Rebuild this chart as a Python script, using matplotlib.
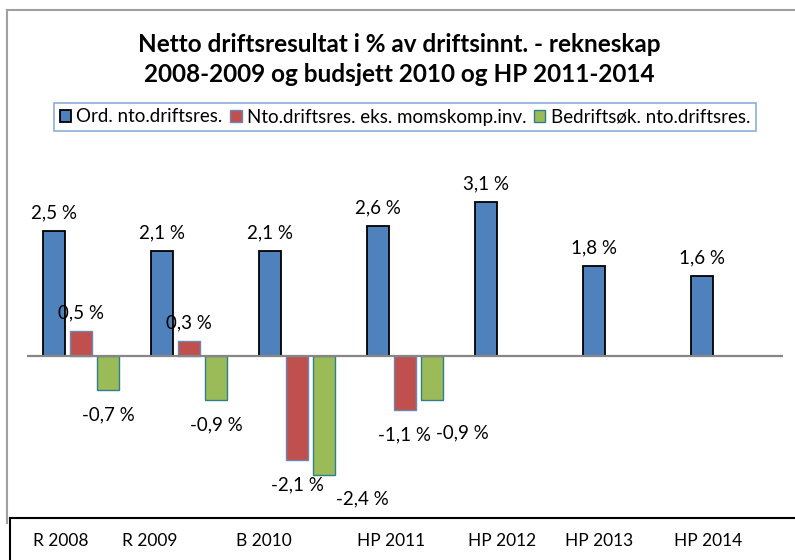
import matplotlib
matplotlib.use("Agg")
import matplotlib.pyplot as plt
from matplotlib.lines import Line2D
import numpy as np

plt.rcParams['font.family'] = ['Lato', 'DejaVu Sans']

# data
periods = ["R 2008", "R 2009", "B 2010", "HP 2011", "HP 2012", "HP 2013", "HP 2014"]
series_names = ["Ord. nto.driftsres.", "Nto.driftsres. eks. momskomp.inv.", "Bedriftsøk. nto.driftsres."]
ord_netto = [2.5, 2.1, 2.1, 2.6, 3.1, 1.8, 1.6]
eks_moms = [0.5, 0.3, -2.1, -1.1, None, None, None]
bedrift = [-0.7, -0.9, -2.4, -0.9, None, None, None]
title_lines = ["Netto driftsresultat i % av driftsinnt. - rekneskap",
               "2008-2009 og budsjett 2010 og HP 2011-2014"]

# category label x-positions (pixels) in the separate box under the chart
label_px = [61, 150, 264, 391, 502, 599, 708]
# hand-moved data labels (series index, period index) -> extra pixel shift
label_nudge = {(2, 2): (38, 1), (2, 3): (30, -8)}

W, H = 795, 560
fig = plt.figure(figsize=(W / 100, H / 100), dpi=100)

def fx(px):
    return px / W

def fy(py):
    return 1 - py / H

ax = fig.add_axes([fx(27), fy(515), fx(783) - fx(27), fy(130) - fy(515)])

styles = [
    dict(color="#4F81BD", edgecolor="black", linewidth=1.3),
    dict(color="#C0504D", edgecolor="#6E86B0", linewidth=1.0),
    dict(color="#9BBB59", edgecolor="#2F7E8C", linewidth=1.0),
]
offsets = [-0.25, 0.0, 0.25]
width = 0.204
x = np.arange(len(periods))

for si, (vals, name, st, off) in enumerate(zip([ord_netto, eks_moms, bedrift], series_names, styles, offsets)):
    idx = [i for i, v in enumerate(vals) if v is not None]
    xs = [x[i] + off for i in idx]
    ys = [vals[i] for i in idx]
    ax.bar(xs, ys, width=width, label=name, **st, zorder=2)
    for i, xi, v in zip(idx, xs, ys):
        txt = f"{v:.1f} %".replace(".", ",")
        dx, dy = label_nudge.get((si, i), (0, 0))
        dy += 18 if v >= 0 else -25
        ax.annotate(txt, (xi, v), xytext=(dx, dy), textcoords="offset pixels",
                    ha="center", va="center", fontsize=13.5, clip_on=False)

ax.axhline(0, color="#868686", linewidth=1.6, zorder=3)
ax.set_xlim(-0.5, len(periods) - 0.5)
ax.set_ylim(-3.21, 4.54)
ax.axis("off")

for line, py in zip(title_lines, [45, 75]):
    fig.text(fx(399), fy(py), line, ha="center", va="center", fontsize=17.5,
             fontweight="bold")

leg = fig.legend(loc="center", bbox_to_anchor=(fx(405), fy(117)), ncol=3,
                 frameon=True, fancybox=False, edgecolor="#6F9BD1", fontsize=13.5,
                 handlelength=0.6, handleheight=0.6, handletextpad=0.3,
                 columnspacing=0.4, borderpad=0.3, borderaxespad=0)
leg.get_frame().set_linewidth(1.2)

# outer chart border (grey) and the box below it (black)
fig.add_artist(Line2D([fx(7), 1], [fy(10), fy(10)], color="#a0a0a0", lw=1.5))
fig.add_artist(Line2D([fx(7), fx(7)], [fy(10), fy(523)], color="#a0a0a0", lw=1.5))
fig.add_artist(Line2D([fx(10), 1], [fy(518), fy(518)], color="black", lw=1.5))
fig.add_artist(Line2D([fx(10), fx(10)], [fy(518), 0], color="black", lw=1.5))

for lbl, px in zip(periods, label_px):
    fig.text(fx(px), fy(541), lbl, ha="center", va="center", fontsize=12.5)

fig.savefig("out.png", dpi=100)
